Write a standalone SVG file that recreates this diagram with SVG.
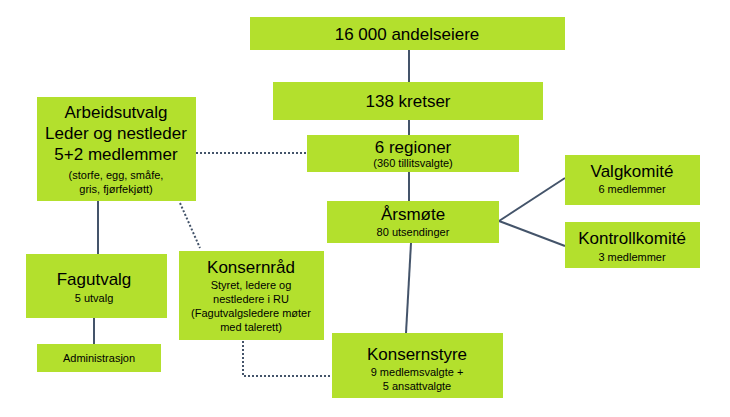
<svg xmlns="http://www.w3.org/2000/svg" width="730" height="417" viewBox="0 0 730 417">
<style>
rect.n{fill:#B3E02D}
text{font-family:"Liberation Sans",Arial,sans-serif;fill:#000;text-anchor:middle}
.t{font-size:17px}.s{font-size:11px}
.c line,.c polyline{stroke:#44546A;stroke-width:2;fill:none}
.c .d{stroke-dasharray:2 2}
</style>
<rect width="730" height="417" fill="#fff"/>
<g class="c">
<line x1="409" y1="50" x2="409" y2="82"/>
<line x1="409" y1="120" x2="409" y2="135"/>
<line x1="409" y1="172" x2="409" y2="201"/>
<line x1="411" y1="243" x2="406" y2="333"/>
<line x1="499" y1="221" x2="565" y2="178"/>
<line x1="499" y1="221" x2="565" y2="246"/>
<line x1="98" y1="201" x2="98" y2="254"/>
<line x1="94" y1="318" x2="94" y2="344"/>
<line class="d" x1="196" y1="153" x2="307" y2="153"/>
<line class="d" x1="180" y1="203" x2="200" y2="248"/>
<polyline class="d" points="243,333 243,376 332,376"/>
</g>
<g id="andelseiere"><rect class="n" x="250" y="17" width="315" height="33"/><text class="t" x="407" y="40">16 000 andelseiere</text></g>
<g id="kretser"><rect class="n" x="273" y="82" width="270" height="38"/><text class="t" x="408" y="107">138 kretser</text></g>
<g id="regioner"><rect class="n" x="307" y="135" width="212" height="37"/><text class="t" x="413" y="153">6 regioner</text><text class="s" x="413" y="167">(360 tillitsvalgte)</text></g>
<g id="arsmote"><rect class="n" x="327" y="201" width="172" height="42"/><text class="t" x="413" y="220">Årsmøte</text><text class="s" x="413" y="236">80 utsendinger</text></g>
<g id="valgkomite"><rect class="n" x="565" y="155" width="135" height="50"/><text class="t" x="632" y="177">Valgkomité</text><text class="s" x="632" y="193">6 medlemmer</text></g>
<g id="kontrollkomite"><rect class="n" x="565" y="222" width="135" height="46"/><text class="t" x="632" y="244">Kontrollkomité</text><text class="s" x="632" y="261">3 medlemmer</text></g>
<g id="arbeidsutvalg"><rect class="n" x="37" y="97" width="159" height="104"/><text class="t" x="116" y="118">Arbeidsutvalg</text><text class="t" x="116" y="139">Leder og nestleder</text><text class="t" x="116" y="160">5+2 medlemmer</text><text class="s" x="116" y="179">(storfe, egg, småfe,</text><text class="s" x="116" y="193">gris, fjørfekjøtt)</text></g>
<g id="fagutvalg"><rect class="n" x="26" y="254" width="141" height="64"/><text class="t" x="94" y="285">Fagutvalg</text><text class="s" x="94" y="302">5 utvalg</text></g>
<g id="administrasjon"><rect class="n" x="37" y="344" width="124" height="28"/><text class="s" x="99" y="362">Administrasjon</text></g>
<g id="konsernrad"><rect class="n" x="179" y="251" width="145" height="89"/><text class="t" x="251" y="273">Konsernråd</text><text class="s" x="251" y="289">Styret, ledere og</text><text class="s" x="251" y="303">nestledere i RU</text><text class="s" x="251" y="317">(Fagutvalgsledere møter</text><text class="s" x="251" y="331">med talerett)</text></g>
<g id="konsernstyre"><rect class="n" x="332" y="333" width="171" height="65"/><text class="t" x="417" y="360">Konsernstyre</text><text class="s" x="417" y="376">9 medlemsvalgte +</text><text class="s" x="417" y="390">5 ansattvalgte</text></g>
</svg>
